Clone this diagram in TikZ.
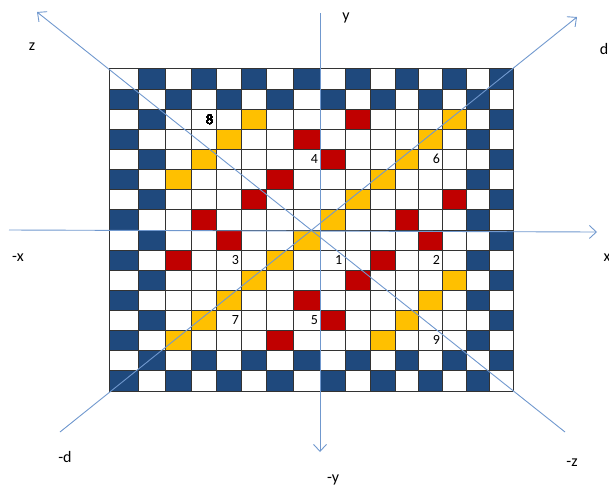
\documentclass[tikz,border=0pt]{standalone}
\usepackage{fontspec}
\setmainfont{Carlito}
\usetikzlibrary{arrows.meta}
\definecolor{cellblue}{RGB}{31,73,125}
\definecolor{cellred}{RGB}{192,0,0}
\definecolor{cellyellow}{RGB}{255,192,0}
\definecolor{axisblue}{RGB}{112,152,206}
\tikzset{
  gridline/.style={draw=black!80,line width=0.9pt},
  axis/.style={draw=axisblue,line width=0.9pt},
  cellnum/.style={anchor=east,inner sep=2.5pt,font=\fontsize{14}{16}\selectfont},
  axislabel/.style={inner sep=0pt,font=\fontsize{16}{18}\selectfont}
}
% column and row edges of the board
\def\cols{{109,138.3,165,191,216,241.7,266.7,293.3,320.7,345,370,395,418.3,442.7,466.7,489,513.3}}
\def\rows{{68.3,89.3,109.3,129.3,149.3,169.3,189.3,209.3,230,250,270,290,310,330,350,370,391}}
\newcommand\fillcell[3]{%
  \pgfmathsetmacro\xa{\cols[#2]}\pgfmathsetmacro\xb{\cols[#2+1]}%
  \pgfmathsetmacro\ya{\rows[#1]}\pgfmathsetmacro\yb{\rows[#1+1]}%
  \fill[#3] (\xa,\ya) rectangle (\xb,\yb);}
\begin{document}
\begin{tikzpicture}[x=1pt,y=-1pt,>={Straight Barb[length=7pt,width=13pt]}]
\useasboundingbox (0,0) rectangle (609,488);
% blue checker border
\foreach \r in {0,...,15}
  \foreach \c in {0,...,15} {
    \pgfmathtruncatemacro\edge{(\r<2)||(\r>13)||(\c<2)||(\c>13)}
    \pgfmathtruncatemacro\odd{mod(\r+\c,2)}
    \ifnum\numexpr\edge*\odd\relax=1
      \fillcell{\r}{\c}{cellblue}
    \fi
  }
% red cells
\foreach \r/\c in {2/9,3/7,4/8,5/6,6/5,6/13,7/3,7/11,8/4,8/12,9/2,9/10,10/9,11/7,12/8,13/6}
  \fillcell{\r}{\c}{cellred}
% yellow cells
\foreach \r/\c in {2/5,3/4,4/3,5/2,2/13,3/12,4/11,5/10,6/9,7/8,8/7,9/6,10/5,11/4,12/3,13/2,10/13,11/12,12/11,13/10}
  \fillcell{\r}{\c}{cellyellow}
% grid
\foreach \i in {0,...,16} {
  \pgfmathsetmacro\xx{\cols[\i]}
  \pgfmathsetmacro\yy{\rows[\i]}
  \draw[gridline] (\xx,68.3) -- (\xx,391);
  \draw[gridline] (109,\yy) -- (513.3,\yy);
}
% numbers
\node[cellnum] (n8) at (216,119.3) {8};
\node[cellnum] (n4) at (320.7,159.3) {4};
\node[cellnum] (n6) at (442.7,159.3) {6};
\node[cellnum] (n3) at (241.7,260) {3};
\node[cellnum] (n1) at (345,260) {1};
\node[cellnum] (n2) at (442.7,260) {2};
\node[cellnum] (n7) at (241.7,320) {7};
\node[cellnum] (n5) at (320.7,320) {5};
\node[cellnum] (n9) at (442.7,340) {9};
% axes
\coordinate (ytop) at (320,13);
\coordinate (ybot) at (320,452);
\coordinate (xleft) at (9,230);
\coordinate (xright) at (597,232);
\coordinate (ztip) at (37,12);
\coordinate (zend) at (565,432);
\coordinate (dtip) at (577,17);
\coordinate (dend) at (60,432);
\draw[axis,->] (ytop) -- (ybot);
\draw[axis,->] (xleft) -- (xright);
\draw[axis,->] (zend) -- (ztip);
\draw[axis,->] (dend) -- (dtip);
% axis labels
\node[axislabel] (ly) at (346,18) {y};
\node[axislabel] (lmy) at (333,480) {-y};
\node[axislabel] (lmx) at (18,258) {-x};
\node[axislabel] (lx) at (607,258) {x};
\node[axislabel] (lz) at (32,47) {z};
\node[axislabel] (lmz) at (572,463) {-z};
\node[axislabel] (ld) at (604,49) {d};
\node[axislabel] (lmd) at (65,457) {-d};
\end{tikzpicture}
\end{document}
